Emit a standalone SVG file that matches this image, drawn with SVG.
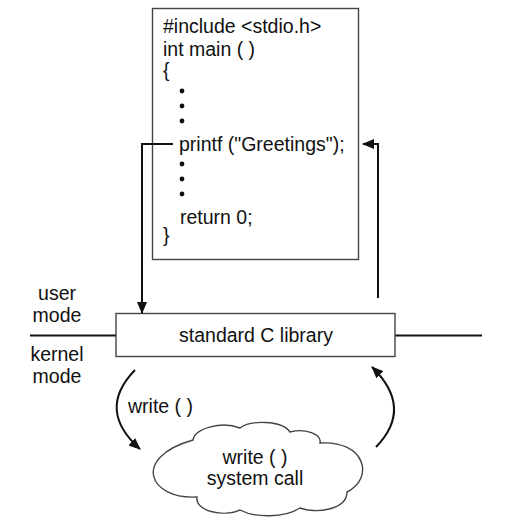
<svg xmlns="http://www.w3.org/2000/svg" width="517" height="528" viewBox="0 0 517 528">
<style>
text{font-family:"Liberation Sans",Arial,sans-serif;font-size:19.5px;fill:#111}
.box{fill:#fff;stroke:#444;stroke-width:1.4}
.conn{fill:none;stroke:#111;stroke-width:2}
.mid{text-anchor:middle}
</style>
<defs>
<marker id="ah" markerWidth="12" markerHeight="10" refX="11" refY="5" orient="auto" markerUnits="userSpaceOnUse">
<path d="M0,0 L12,5 L0,10 Z" fill="#111"/>
</marker>
</defs>
<rect width="517" height="528" fill="#fff"/>
<g id="code">
<rect class="box" x="152.5" y="8.5" width="206" height="251"/>
<text x="163" y="33">#include &lt;stdio.h&gt;</text>
<text x="163" y="56">int main ( )</text>
<text x="163" y="77">{</text>
<circle cx="182" cy="91" r="2.4" fill="#111"/>
<circle cx="182" cy="106" r="2.4" fill="#111"/>
<circle cx="182" cy="121" r="2.4" fill="#111"/>
<text x="179" y="151">printf ("Greetings");</text>
<circle cx="182" cy="164" r="2.4" fill="#111"/>
<circle cx="182" cy="179" r="2.4" fill="#111"/>
<circle cx="182" cy="194" r="2.4" fill="#111"/>
<text x="180" y="224">return 0;</text>
<text x="163" y="242">}</text>
</g>
<g id="boundary">
<line x1="30" y1="335.5" x2="116" y2="335.5" stroke="#111" stroke-width="2"/>
<line x1="395" y1="335.5" x2="482" y2="335.5" stroke="#111" stroke-width="2"/>
<text class="mid" x="57" y="300">user</text>
<text class="mid" x="57" y="322">mode</text>
<text class="mid" x="57" y="361">kernel</text>
<text class="mid" x="57" y="383">mode</text>
</g>
<g id="library">
<rect class="box" x="116" y="313.5" width="279" height="43"/>
<text class="mid" x="256" y="342">standard C library</text>
</g>
<g id="syscall">
<path class="box" d="M193,440 C195,428 222,421 240,428 C250,420 282,420 290,432 C305,428 322,434 320,443 C365,440 375,478 347,492 C347,510 315,514 300,508 C285,518 255,518 240,510 C225,517 195,512 197,497 C150,500 130,458 193,440 Z"/>
<text class="mid" x="255" y="464">write ( )</text>
<text class="mid" x="255" y="485">system call</text>
</g>
<g id="connectors">
<path class="conn" d="M173,144 H142 V313" marker-end="url(#ah)"/>
<path class="conn" d="M378,298 V144 H363" marker-end="url(#ah)"/>
<path class="conn" d="M135,370 Q96,410 140,449" marker-end="url(#ah)"/>
<path class="conn" d="M376,447 Q414,408 372,367" marker-end="url(#ah)"/>
<text x="128" y="413">write ( )</text>
</g>
</svg>
